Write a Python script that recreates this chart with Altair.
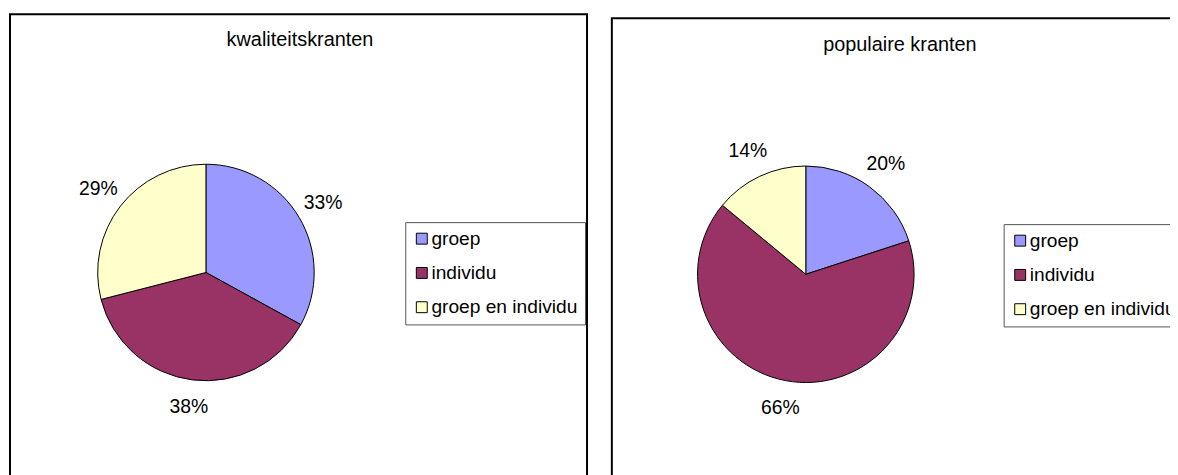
import altair as alt
import pandas as pd

categories = ["groep", "individu", "groep en individu"]
kwaliteit_pct = [33, 38, 29]
populair_pct = [20, 66, 14]
titles = ["kwaliteitskranten", "populaire kranten"]
colors = ["#9999FF", "#993366", "#FFFFCC"]

FONT = "Liberation Sans"
FS = 19.5
LEG_FS = 19.3


def panel(title, values, box, center, title_xy, legend_xy):
    df = pd.DataFrame({"cat": categories, "pct": values,
                       "idx": list(range(len(categories)))})
    df["label"] = df["pct"].astype(str) + "%"
    tdf = pd.DataFrame({"title": [title]})
    x0, y0, x1, y1 = box

    border = alt.Chart(tdf).mark_rect(fillOpacity=0, stroke="black", strokeWidth=2).encode(
        x=alt.value(x0), x2=alt.value(x1), y=alt.value(y0), y2=alt.value(y1))

    ttl = alt.Chart(tdf).mark_text(font=FONT, fontSize=20, color="black",
                                   align="center", baseline="middle").encode(
        x=alt.value(title_xy[0]), y=alt.value(title_xy[1]), text="title:N")

    base = alt.Chart(df).encode(
        theta=alt.Theta("pct:Q", stack=True),
        order=alt.Order("idx:Q"),
        detail="cat:N",
        x=alt.value(center[0]), y=alt.value(center[1]))

    arcs = base.mark_arc(radius=109, stroke="black", strokeWidth=1).encode(
        color=alt.Color("cat:N",
                        scale=alt.Scale(domain=categories, range=colors),
                        legend=alt.Legend(title=None, orient="none",
                                          legendX=legend_xy[0], legendY=legend_xy[1],
                                          symbolType="square", symbolSize=121,
                                          symbolStrokeColor="black", symbolStrokeWidth=1,
                                          symbolOpacity=1,
                                          labelFont=FONT, labelFontSize=LEG_FS,
                                          labelColor="black", labelOffset=0,
                                          labelLimit=400,
                                          padding=7, rowPadding=14.5,
                                          strokeColor="#555555", fillColor="white")))

    labels = base.mark_text(radius=137, font=FONT, fontSize=FS, color="black",
                            align="center", baseline="middle").encode(text="label:N")

    return alt.layer(border, arcs, labels, ttl)


left = panel(titles[0], kwaliteit_pct, (2, 4.7, 583, 520), (199.3, 264.7), (294, 31), (400, 214))
right = panel(titles[1], populair_pct, (608, 8.7, 1250, 520), (803.3, 266.5), (898, 36), (1002.5, 216))

chart = alt.layer(left, right).resolve_scale(color="independent").properties(
    width=1170, height=467, padding=0,
    autosize=alt.AutoSizeParams(type="none"),
).configure_view(stroke=None)

chart.save("out.html", embed_options={"renderer": "svg", "actions": False})
